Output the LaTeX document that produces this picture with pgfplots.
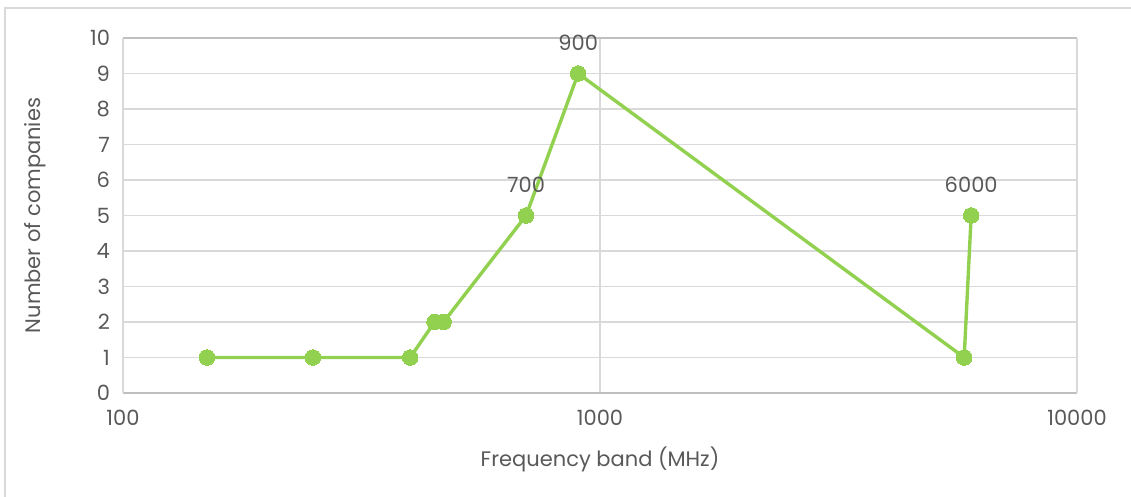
\documentclass[border=0pt]{standalone}
\usepackage{fontspec}
\setmainfont{Poppins}
\usepackage{pgfplots}
\pgfplotsset{compat=1.18}

\definecolor{linegreen}{HTML}{92D050}
\definecolor{txtgray}{HTML}{595959}
\definecolor{gridgray}{HTML}{D9D9D9}
\definecolor{axgray}{HTML}{BFBFBF}

\begin{document}
\begin{tikzpicture}[x=1pt,y=1pt]
\useasboundingbox (0,0) rectangle (565.5,248.5);
\draw[gridgray, line width=0.8pt] (2.5,0) -- (2.5,244.5) -- (565.5,244.5);
\begin{axis}[
    at={(61.5pt,52pt)},
    anchor=south west,
    scale only axis,
    width=477pt, height=177.5pt,
    xmode=log,
    xmin=100, xmax=10000,
    ymin=0, ymax=10,
    xtick={100,1000,10000},
    xticklabels={100,1000,10000},
    ytick={0,1,...,10},
    /pgf/number format/assume math mode=true,
    major tick length=0pt,
    minor tick length=0pt,
    xmajorgrids, ymajorgrids,
    grid style={gridgray, line width=0.8pt},
    axis line style={gridgray, line width=0.8pt},
    every outer x axis line/.append style={axgray},
    separate axis lines,
    tick label style={font=\fontsize{10.5}{12}\selectfont, text=txtgray},
    xticklabel style={yshift=-5pt},
    yticklabel style={xshift=-3pt},
    xlabel={Frequency band (MHz)},
    ylabel={Number of companies},
    label style={font=\fontsize{10.5}{12}\selectfont, text=txtgray},
    xlabel style={yshift=-4pt},
    ylabel style={yshift=15pt},
    clip=false,
]
\addplot[color=linegreen, line width=1.7pt, mark=*, mark size=3.9pt,
    mark options={fill=linegreen, draw=linegreen, line width=0pt}]
    coordinates {
    (150,1)(250,1)(400,1)(450,2)(470,2)(700,5)(900,9)(5800,1)(6000,5)
    };
\addplot[draw=none, mark=none, nodes near coords, point meta=explicit symbolic,
    every node near coord/.append style={font=\fontsize{10.5}{12}\selectfont, text=txtgray, yshift=8pt}]
    coordinates {
    (700,5)[700] (900,9)[900] (6000,5)[6000]
    };
\end{axis}
\end{tikzpicture}
\end{document}
